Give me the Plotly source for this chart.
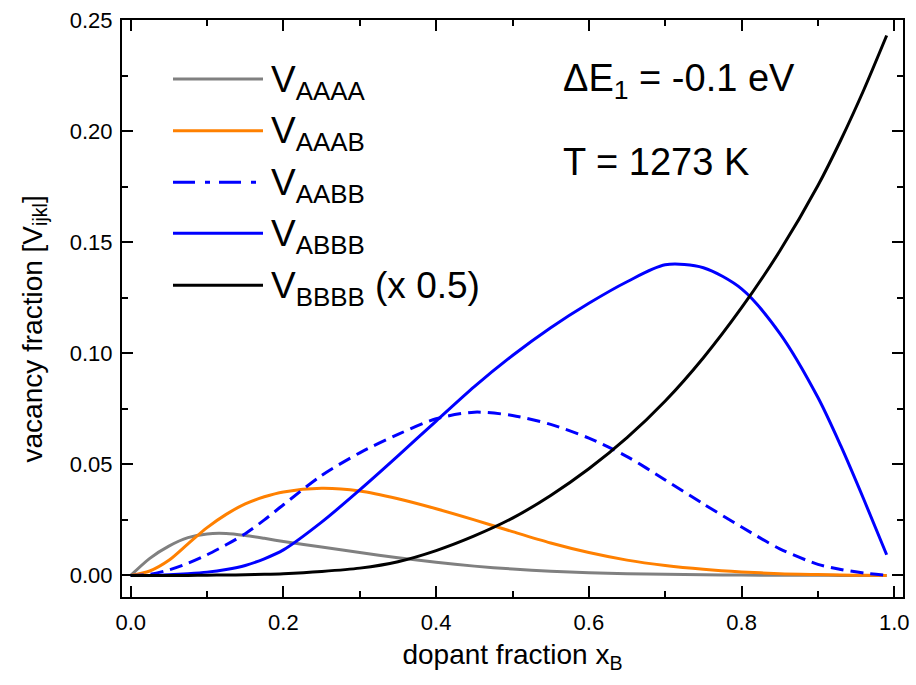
import plotly.graph_objects as go

# ---------------- data ----------------
x_b = [0, 0.025, 0.05, 0.075, 0.1, 0.125, 0.15, 0.175, 0.2, 0.25, 0.3, 0.35,
       0.4, 0.45, 0.5, 0.55, 0.6, 0.65, 0.7, 0.75, 0.8, 0.85, 0.9, 0.93, 0.96, 0.99]

v_aaaa = [0, 0.0077, 0.0132, 0.0170, 0.0187, 0.0189, 0.0180, 0.0167, 0.0153, 0.0128,
          0.0103, 0.0080, 0.0059, 0.0042, 0.0029, 0.0019, 0.0012, 0.0008, 0.0005,
          0.0003, 0.0002, 0.0001, 0.0001, 0.0, 0.0, 0.0]

v_aaab = [0, 0.0020, 0.0068, 0.0142, 0.0215, 0.0275, 0.0322, 0.0354, 0.0376, 0.0392,
          0.0380, 0.0345, 0.0300, 0.0250, 0.0197, 0.0146, 0.0103, 0.0069, 0.0045,
          0.0028, 0.0016, 0.0008, 0.0004, 0.0002, 0.0001, 0.0]

v_aabb = [0, 0.0005, 0.0025, 0.0055, 0.0093, 0.0138, 0.0188, 0.0250, 0.0318, 0.0450,
          0.0552, 0.0635, 0.0705, 0.0735, 0.0720, 0.0680, 0.0618, 0.0535, 0.0430,
          0.0322, 0.0218, 0.0120, 0.0050, 0.0027, 0.0011, 0.0]

v_abbb = [0, 0.0, 0.0003, 0.0008, 0.0015, 0.0027, 0.0045, 0.0075, 0.0115, 0.0240,
          0.0385, 0.0538, 0.0695, 0.0850, 0.0990, 0.1115, 0.1225, 0.1322, 0.1398,
          0.1385, 0.1290, 0.1090, 0.0801, 0.0583, 0.0343, 0.0093]

v_bbbb_half = [0, 0, 0, 0.0, 0.0001, 0.0002, 0.0003, 0.0005, 0.0008, 0.0018,
               0.0033, 0.0062, 0.0112, 0.0178, 0.0258, 0.0360, 0.0480, 0.0620, 0.0785,
               0.0980, 0.1205, 0.1460, 0.1755, 0.1960, 0.2185, 0.2430]

series_names = ["V<sub>AAAA</sub>", "V<sub>AAAB</sub>", "V<sub>AABB</sub>",
                "V<sub>ABBB</sub>", "V<sub>BBBB</sub> (x 0.5)"]
series_values = [v_aaaa, v_aaab, v_aabb, v_abbb, v_bbbb_half]
series_colors = ["#808080", "#FF8000", "#0000FF", "#0000FF", "#000000"]
series_dash = ["solid", "solid", "13px,7px", "solid", "solid"]
legend_dash = ["solid", "solid", "22px,10px,5px,9px", "solid", "solid"]

x_ticks = [0.0, 0.2, 0.4, 0.6, 0.8, 1.0]
y_ticks = [0.00, 0.05, 0.10, 0.15, 0.20, 0.25]

x_title = "dopant fraction x<sub>B</sub>"
y_title = "vacancy fraction [V<sub>ijkl</sub>]"

# ---------------- layout geometry ----------------
W, H = 916, 685
ML, MR, MT, MB = 122, 13, 20, 88
PW, PH = W - ML - MR, H - MT - MB


def pxx(px):
    return (px - ML) / PW


def pxy(py):
    return (H - MB - py) / PH


FONT = "Liberation Sans, Arial, Helvetica, sans-serif"

fig = go.Figure()
for name, vals, col, dash in zip(series_names, series_values, series_colors, series_dash):
    fig.add_trace(go.Scatter(
        x=x_b, y=vals, mode="lines", name=name, showlegend=False,
        line=dict(color=col, width=3, dash=dash, shape="spline", smoothing=0.8),
    ))

# manual legend (long sample lines like the original)
legend_line_y = [79, 130.7, 182.3, 233.3, 285.3]
shapes = []
annotations = []
for name, col, dash, ly in zip(series_names, series_colors, legend_dash, legend_line_y):
    shapes.append(dict(type="line", xref="paper", yref="paper",
                       x0=pxx(173), x1=pxx(263), y0=pxy(ly), y1=pxy(ly),
                       line=dict(color=col, width=3, dash=dash)))
    annotations.append(dict(text=name, xref="paper", yref="paper",
                            x=pxx(269), y=pxy(ly + 2.6), xanchor="left", yanchor="middle",
                            showarrow=False, font=dict(family=FONT, size=37, color="black")))

annotations.append(dict(text="ΔE<sub>1</sub> = -0.1 eV", xref="paper", yref="paper",
                        x=pxx(561), y=pxy(81), xanchor="left", yanchor="middle",
                        showarrow=False, font=dict(family=FONT, size=38, color="black")))
annotations.append(dict(text="T = 1273 K", xref="paper", yref="paper",
                        x=pxx(561), y=pxy(161.8), xanchor="left", yanchor="middle",
                        showarrow=False, font=dict(family=FONT, size=38, color="black")))

# y-axis title (placed like the original, slightly below the axis centre)
annotations.append(dict(text=y_title, xref="paper", yref="paper", textangle=-90,
                        x=pxx(34.5), y=pxy(329), xanchor="center", yanchor="middle",
                        showarrow=False, font=dict(family=FONT, size=28, color="black")))

axis_common = dict(
    showline=True, linewidth=2, linecolor="black", mirror="ticks",
    ticks="inside", ticklen=11, tickwidth=2, tickcolor="black",
    showgrid=False, zeroline=False,
    tickfont=dict(family=FONT, size=22, color="black"),
)

fig.update_layout(
    width=W, height=H,
    margin=dict(l=ML, r=MR, t=MT, b=MB, autoexpand=False),
    paper_bgcolor="white", plot_bgcolor="white",
    font=dict(family=FONT, color="black"),
    showlegend=False,
    shapes=shapes, annotations=annotations,
    xaxis=dict(
        range=[-0.0114, 1.0114], tickvals=x_ticks, tickformat=".1f",
        minor=dict(ticks="inside", ticklen=6, tickwidth=2, tickcolor="black", dtick=0.1, tick0=0),
        title=dict(text=x_title, font=dict(family=FONT, size=28), standoff=10),
        ticklabelstandoff=5,
        **axis_common,
    ),
    yaxis=dict(
        range=[-0.0097, 0.25], tickvals=y_ticks, tickformat=".2f",
        minor=dict(ticks="inside", ticklen=6, tickwidth=2, tickcolor="black", dtick=0.025, tick0=0),
        ticklabelstandoff=3,
        **axis_common,
    ),
)

fig.write_html("out.html", config={"displayModeBar": False},
               post_script="document.body.style.margin='0px';")
